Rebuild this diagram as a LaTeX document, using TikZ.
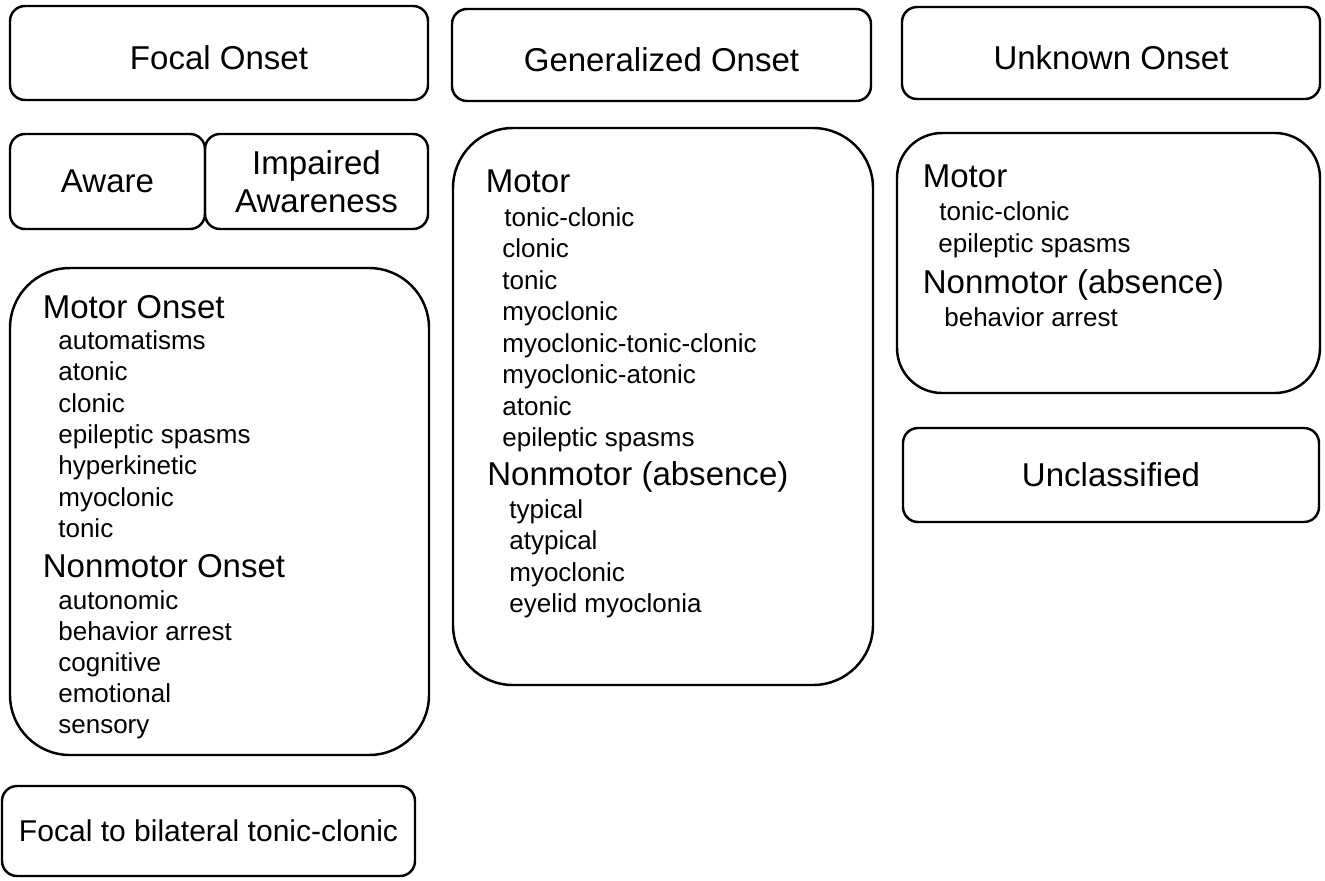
\documentclass[tikz,border=0pt]{standalone}
\usepackage{fontspec}
\setmainfont{Liberation Sans}

\newcommand{\pxl}{0.02cm}
\tikzset{
  box/.style={draw, line width=1.4pt, rounded corners=0.3cm, inner sep=0pt, align=center,
    font=\fontsize{18.8}{21.6}\selectfont},
  onset/.style={box, text height=19pt, text depth=0pt},
  bigbox/.style={draw, line width=1.4pt, rounded corners=1.2cm, inner sep=0pt},
  head/.style={anchor=base west, inner sep=0pt, font=\fontsize{18.8}{22}\selectfont},
  item/.style={anchor=base west, inner sep=0pt, font=\fontsize{14.8}{18}\selectfont}
}

\begin{document}
\begin{tikzpicture}[x=0.02cm, y=-0.02cm]
    \useasboundingbox (0,0) rectangle (1325,880);

    % top row
    \node[onset, minimum width=418*\pxl, minimum height=94*\pxl] (focal) at (219,53) {Focal Onset};
    \node[onset, minimum width=419*\pxl, minimum height=92*\pxl] (general) at (661.5,55) {Generalized Onset};
    \node[onset, minimum width=418*\pxl, minimum height=92*\pxl] (unknown) at (1111,53) {Unknown Onset};

    % focal column
    \node[box, minimum width=195*\pxl, minimum height=95*\pxl] (aware) at (107.5,181.5) {Aware};
    \node[box, minimum width=223*\pxl, minimum height=95*\pxl] (impaired) at (316.5,181.5) {Impaired\\Awareness};
    \node[bigbox, minimum width=419*\pxl, minimum height=487*\pxl] (focal_box) at (219.5,511.5) {};
    \node[box, minimum width=413*\pxl, minimum height=90*\pxl, font=\fontsize{17.1}{20}\selectfont]
        (bilateral) at (208.5,831) {Focal to bilateral tonic-clonic};

    \node[head] (f_0) at (42.5,318) {Motor Onset};
    \node[item] (f_1) at (58,349) {automatisms};
    \node[item] (f_2) at (58,380) {atonic};
    \node[item] (f_3) at (58,412) {clonic};
    \node[item] (f_4) at (58,443) {epileptic spasms};
    \node[item] (f_5) at (58,474) {hyperkinetic};
    \node[item] (f_6) at (58,506) {myoclonic};
    \node[item] (f_7) at (58,537) {tonic};
    \node[head] (f_8) at (42.5,577) {Nonmotor Onset};
    \node[item] (f_9) at (58,609) {autonomic};
    \node[item] (f_10) at (58,640) {behavior arrest};
    \node[item] (f_11) at (58,671) {cognitive};
    \node[item] (f_12) at (58,702) {emotional};
    \node[item] (f_13) at (58,733) {sensory};

    % generalized column
    \node[bigbox, minimum width=420*\pxl, minimum height=557*\pxl] (general_box) at (663,406.5) {};

    \node[head] (g_0) at (485.5,192) {Motor};
    \node[item] (g_1) at (504,226) {tonic-clonic};
    \node[item] (g_2) at (502,257) {clonic};
    \node[item] (g_3) at (502,289) {tonic};
    \node[item] (g_4) at (502,320) {myoclonic};
    \node[item] (g_5) at (502,352) {myoclonic-tonic-clonic};
    \node[item] (g_6) at (502,383) {myoclonic-atonic};
    \node[item] (g_7) at (502,415) {atonic};
    \node[item] (g_8) at (502,446) {epileptic spasms};
    \node[head] (g_9) at (487,485) {Nonmotor (absence)};
    \node[item] (g_10) at (509,518) {typical};
    \node[item] (g_11) at (509,549) {atypical};
    \node[item] (g_12) at (509,581) {myoclonic};
    \node[item] (g_13) at (509,612) {eyelid myoclonia};

    % unknown column
    \node[bigbox, rounded corners=0.9cm, minimum width=423*\pxl, minimum height=260*\pxl] (unknown_box) at (1108.5,263) {};
    \node[box, minimum width=416*\pxl, minimum height=94*\pxl] (unclassified) at (1111,475) {Unclassified};

    \node[head] (u_0) at (922.5,187) {Motor};
    \node[item] (u_1) at (939,220) {tonic-clonic};
    \node[item] (u_2) at (938,252) {epileptic spasms};
    \node[head] (u_3) at (922.5,293) {Nonmotor (absence)};
    \node[item] (u_4) at (944,326) {behavior arrest};
\end{tikzpicture}
\end{document}
